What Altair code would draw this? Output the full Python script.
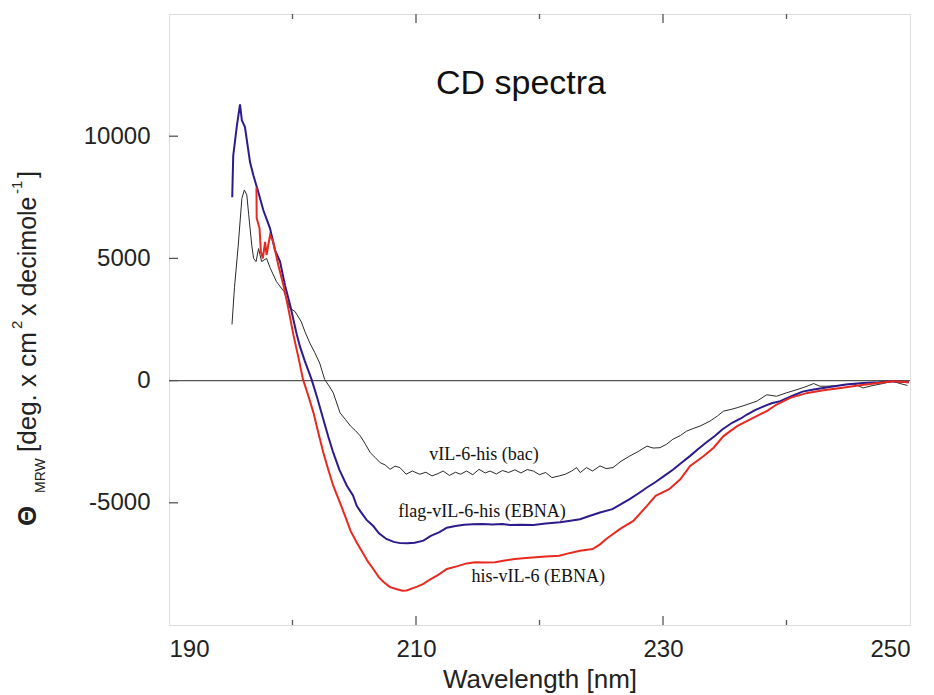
import altair as alt
import pandas as pd

# ---------------- data ----------------
bac_wl = [195.1, 195.3, 195.6, 195.9, 196.1, 196.3, 196.45, 196.7, 196.85, 197.05,
          197.25, 197.5, 197.9, 198.2, 198.7, 199.3, 199.8, 200.2, 200.7, 201.0,
          201.4, 201.8, 202.2, 202.6, 203.0, 203.3, 203.85, 204.3, 204.7, 205.1,
          205.5, 205.9, 206.3, 206.7, 207.1, 207.5, 207.9, 208.3, 208.7, 209.2,
          209.7, 210.3, 210.8, 211.3, 211.8, 212.2, 212.7, 213.2, 213.6, 214.1,
          214.6, 215.1, 215.6, 216.0, 216.5, 217.0, 217.5, 218.0, 218.5, 219.0,
          219.5, 220.0, 220.5, 221.0, 221.6, 222.1, 222.6, 223.0, 223.3, 223.8,
          224.3, 224.9, 225.4, 225.95, 226.6, 227.3, 228.0, 228.7, 229.2, 229.75,
          230.3, 230.8, 231.4, 231.9, 232.5, 233.0, 233.8, 234.4, 234.9, 235.5,
          236.0, 236.8, 237.6, 238.4, 239.2, 240.0, 240.85, 241.66, 242.2, 242.7,
          243.3, 244.3, 245.4, 246.2, 247.0, 247.8, 248.6, 249.2, 249.8]
bac_val = [2300, 3800, 5500, 7450, 7800, 7600, 6800, 5550, 5000, 4870,
           5400, 4870, 5000, 4600, 4050, 3650, 2960, 2830, 2420, 2010,
           1540, 1150, 720, 50, -250, -500, -1320, -1600, -1860, -2050,
           -2270, -2600, -2950, -3150, -3360, -3450, -3630, -3500, -3560, -3830,
           -3700, -3830, -3750, -3900, -3800, -3700, -3880, -3750, -3830, -3700,
           -3850, -3630, -3780, -3700, -3820, -3680, -3760, -3650, -3780, -3640,
           -3700, -3850, -3760, -3970, -3900, -3830, -3700, -3560, -3765, -3560,
           -3700, -3490, -3600, -3560, -3300, -3090, -2900, -2680, -2760, -2745,
           -2600, -2400, -2250, -2070, -1950, -1860, -1660, -1450, -1250, -1180,
           -1110, -980, -840, -580, -640, -500, -370, -230, -120, -230,
           -230, -200, -120, -300, -200, -120, -30, -120, -200]

flag_wl = [195.12, 195.2, 195.5, 195.75, 195.9, 196.15, 196.56, 196.83, 197.23, 197.64,
           198.18, 198.58, 198.99, 199.39, 199.8, 200.34, 200.6, 201.0, 201.55, 202.0,
           202.5, 202.9, 203.3, 203.8, 204.4, 204.9, 205.2, 205.5, 206.0, 206.54,
           207.0, 207.6, 208.2, 208.7, 209.3, 209.9, 210.6, 211.2, 211.9, 212.5,
           213.2, 213.9, 214.6, 215.4, 216.2, 217.0, 217.6, 218.5, 219.5, 220.5,
           221.66, 222.5, 223.28, 224.1, 224.9, 225.9, 226.6, 227.3, 228.0, 228.7,
           229.4, 230.1, 230.8, 231.5, 232.2, 232.8, 233.5, 234.2, 234.8, 235.6,
           236.3, 236.8, 237.5, 238.2, 238.8, 239.5, 240.4, 241.3, 242.2, 243.5,
           244.8, 246.2, 247.5, 248.6, 249.9]
flag_val = [7500, 9200, 10440, 11300, 10650, 10370, 8940, 8400, 7720, 6970,
            6230, 5340, 4870, 3900, 3100, 1900, 1400, 800, 40, -700,
            -1590, -2300, -2950, -3650, -4300, -4700, -5125, -5350, -5700, -5950,
            -6250, -6480, -6600, -6650, -6660, -6630, -6550, -6350, -6200, -6020,
            -5950, -5900, -5880, -5870, -5890, -5870, -5910, -5900, -5910, -5850,
            -5800, -5730, -5670, -5530, -5400, -5260, -5050, -4850, -4620, -4375,
            -4150, -3900, -3650, -3360, -3080, -2815, -2530, -2270, -2000, -1725,
            -1550, -1387, -1200, -1046, -930, -840, -640, -450, -367, -258,
            -163, -95, -68, -27, -68]

his_wl = [197.08, 197.1, 197.33, 197.44, 197.6, 197.78, 197.9, 198.18, 198.44, 198.85,
          199.26, 199.66, 200.07, 200.5, 200.85, 201.3, 201.7, 202.1, 202.5, 202.9,
          203.3, 203.85, 204.3, 204.7, 205.2, 205.7, 206.1, 206.54, 207.0, 207.4,
          207.9, 208.4, 208.9, 209.25, 209.7, 210.1, 210.6, 211.1, 211.8, 212.5,
          213.3, 214.1, 214.8, 215.6, 216.4, 217.2, 218.0, 218.9, 219.7, 220.5,
          221.6, 222.5, 223.28, 224.3, 224.9, 225.4, 226.5, 227.6, 228.7, 229.4,
          230.5, 231.4, 232.2, 233.3, 234.1, 234.9, 236.0, 237.3, 238.4, 239.2,
          240.3, 241.7, 243.0, 244.4, 245.8, 247.1, 248.6, 249.9]
his_val = [7900, 6650, 6230, 5270, 5000, 5680, 5140, 5950, 5680, 4730,
           3915, 2960, 1880, 900, 50, -650, -1320, -2150, -2950, -3650,
           -4300, -5000, -5600, -6150, -6620, -7050, -7400, -7710, -8050, -8250,
           -8450, -8530, -8600, -8590, -8500, -8430, -8320, -8150, -7950, -7710,
           -7600, -7480, -7430, -7440, -7430, -7360, -7300, -7260, -7230, -7200,
           -7170, -7050, -6960, -6890, -6700, -6480, -6075, -5740, -5125, -4715,
           -4445, -4040, -3490, -3087, -2745, -2270, -1863, -1521, -1250, -979,
           -707, -503, -394, -300, -204, -122, -27, -68]

series_names = ["vIL-6-his (bac)", "flag-vIL-6-his (EBNA)", "his-vIL-6 (EBNA)"]
label_wl = [215.5, 215.35, 219.9]
label_val = [-3030, -5380, -8030]

title_text = "CD spectra"
title_wl = [218.5]
title_val = [12150]

x_major = [190, 210, 230, 250]
x_minor = [200, 220, 240]
y_ticks = [-5000, 0, 5000, 10000]

# ---------------- styling ----------------
colors = ["#2a2a2a", "#2d1b8c", "#e8291f"]
widths = [1.0, 2.0, 2.0]
W, H = 741, 611
FONT = "Liberation Sans"
AX = "#555555"

xs = alt.Scale(domain=[190, 250], nice=False, zero=False)
ys = alt.Scale(domain=[-10000, 15000], nice=False, zero=False)

x_axis = alt.Axis(values=x_major, ticks=False, domain=False, grid=False,
                  labelFont=FONT, labelFontSize=24, labelColor="#222",
                  labelPadding=12, title="Wavelength [nm]",
                  titleFont=FONT, titleFontSize=26, titleFontWeight="normal",
                  titleColor="#222", titlePadding=5, format="d")
y_axis = alt.Axis(values=y_ticks, ticks=False, domain=False, grid=False,
                  labelFont=FONT, labelFontSize=24, labelColor="#222",
                  labelPadding=19, title=None,
                  labelExpr="datum.value < 0 ? '-' + abs(datum.value) : '' + datum.value")


def X(field):
    return alt.X(field, scale=xs, axis=x_axis, title="Wavelength [nm]")


def Y(field):
    return alt.Y(field, scale=ys, axis=y_axis, title=None)


series_data = [(bac_wl, bac_val), (flag_wl, flag_val), (his_wl, his_val)]
layers = []

# zero line
layers.append(alt.Chart(pd.DataFrame({"v": [0]})).mark_rule(color=AX, strokeWidth=1.3).encode(
    y=Y("v:Q")))

# curves
for (wl, val), name, c, w in zip(series_data, series_names, colors, widths):
    df = pd.DataFrame({"wl": wl, "val": val, "series": name})
    layers.append(
        alt.Chart(df).mark_line(color=c, strokeWidth=w).encode(
            x=X("wl:Q"), y=Y("val:Q"), order="wl:Q"))

# inward ticks
tick_major = pd.DataFrame({"t": x_major[1:-1]})
tick_minor = pd.DataFrame({"t": x_minor})
for df, ln in [(tick_major, 9), (tick_minor, 5)]:
    layers.append(alt.Chart(df).mark_rule(color=AX, strokeWidth=1.3).encode(
        x=X("t:Q"), y=alt.value(H), y2=alt.value(H - ln)))
    layers.append(alt.Chart(df).mark_rule(color=AX, strokeWidth=1.3).encode(
        x=X("t:Q"), y=alt.value(0), y2=alt.value(ln)))
layers.append(alt.Chart(pd.DataFrame({"t": y_ticks})).mark_rule(color=AX, strokeWidth=1.3).encode(
    y=Y("t:Q"), x=alt.value(0), x2=alt.value(9)))

# curve labels
lab = pd.DataFrame({"wl": label_wl, "val": label_val, "name": series_names})
layers.append(alt.Chart(lab).mark_text(font="Liberation Serif", fontSize=18, color="#111").encode(
    x=X("wl:Q"), y=Y("val:Q"), text="name:N"))

# in-plot title
tdf = pd.DataFrame({"wl": title_wl, "val": title_val, "t": [title_text]})
layers.append(alt.Chart(tdf).mark_text(font=FONT, fontSize=34, color="#111").encode(
    x=X("wl:Q"), y=Y("val:Q"), text="t:N"))

# rotated y-axis title built from pieces (main, subscript, superscript)
pieces = [
    ("\u0398", -133, 512, 26, "bold"),
    ("MRW", -124, 479, 14, "normal"),
    ("[deg. x cm", -133, 438, 26, "normal"),
    ("2", -147, 315, 15, "normal"),
    ("x decimole", -133, 302, 25, "normal"),
    ("-1", -147, 180, 15, "normal"),
    ("]", -133, 164, 25, "normal"),
]
for txt, px, py, fs, fw in pieces:
    layers.append(alt.Chart(pd.DataFrame({"t": [txt]})).mark_text(
        font=FONT, fontSize=fs, fontWeight=fw, angle=270, align="left",
        baseline="alphabetic", color="#222").encode(
        x=alt.value(px), y=alt.value(py), text="t:N"))

chart = alt.layer(*layers).properties(
    width=W, height=H,
    autosize=alt.AutoSizeParams(type="none"),
    padding={"left": 161, "top": 6, "right": 16, "bottom": 72},
).configure_view(stroke=AX, strokeWidth=1.5).configure(background="white")

chart.save("out.html", embed_options={"renderer": "svg", "actions": False})
